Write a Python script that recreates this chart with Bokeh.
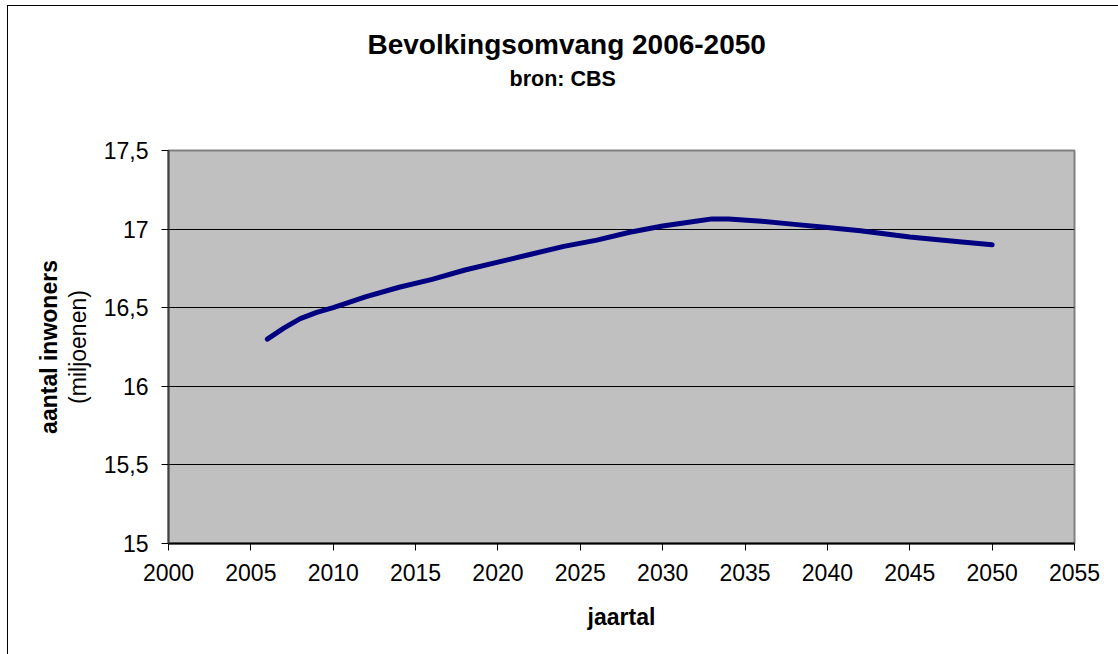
from bokeh.plotting import figure
from bokeh.models import Range1d, FixedTicker, LinearAxis, Title, ColumnDataSource, Grid
from bokeh.embed import file_html
from bokeh.resources import INLINE

# Bevolkingsprognose (miljoenen inwoners), bron: CBS
years = [2006, 2007, 2008, 2009, 2010, 2012, 2014, 2016, 2018, 2020, 2022, 2024,
         2026, 2028, 2030, 2032, 2033, 2034, 2036, 2038, 2040, 2042, 2045, 2048, 2050]
inhabitants = [16.30, 16.37, 16.43, 16.47, 16.50, 16.57, 16.63, 16.68, 16.74, 16.79, 16.84, 16.89,
               16.93, 16.98, 17.02, 17.05, 17.065, 17.065, 17.05, 17.03, 17.01, 16.99, 16.95, 16.92, 16.90]

x_ticks = [2000, 2005, 2010, 2015, 2020, 2025, 2030, 2035, 2040, 2045, 2050, 2055]
y_ticks = [15, 15.5, 16, 16.5, 17, 17.5]
y_tick_labels = ["15", "15,5", "16", "16,5", "17", "17,5"]

FONT = "Liberation Sans"

p = figure(width=1111, height=649, output_backend="svg", toolbar_location=None,
           x_range=Range1d(2000, 2055), y_range=Range1d(15, 17.5),
           x_axis_type=None, y_axis_type=None, title=None)
p.margin = (5, 0, 0, 7)
p.styles = {"border-left": "1px solid black", "border-top": "1px solid black"}
p.frame_width = 906
p.frame_height = 393
p.min_border_left = 160
p.min_border_top = 144
p.min_border_right = 45
p.min_border_bottom = 112
p.background_fill_color = "#C0C0C0"
p.border_fill_color = "white"
p.outline_line_color = "#808080"
p.outline_line_width = 2

# x axis
xaxis = LinearAxis(ticker=FixedTicker(ticks=x_ticks), axis_label="jaartal")
xaxis.axis_line_color = "black"
xaxis.axis_line_width = 2
xaxis.major_tick_line_color = "black"
xaxis.major_tick_in = 0
xaxis.major_tick_out = 7
xaxis.minor_tick_line_color = None
xaxis.major_label_text_font = FONT
xaxis.major_label_text_font_size = "23px"
xaxis.major_label_text_color = "black"
xaxis.major_label_standoff = 13
xaxis.axis_label_text_font = FONT
xaxis.axis_label_text_font_size = "23px"
xaxis.axis_label_text_font_style = "bold"
xaxis.axis_label_text_color = "black"
xaxis.axis_label_standoff = 20
p.add_layout(xaxis, "below")

# y axis with unit label
yaxis = LinearAxis(ticker=FixedTicker(ticks=y_ticks), axis_label="(miljoenen)")
yaxis.major_label_overrides = {t: lab for t, lab in zip(y_ticks, y_tick_labels)}
yaxis.axis_line_color = "#404040"
yaxis.axis_line_width = 2
yaxis.major_tick_line_color = "black"
yaxis.major_tick_in = 0
yaxis.major_tick_out = 7
yaxis.minor_tick_line_color = None
yaxis.major_label_text_font = FONT
yaxis.major_label_text_font_size = "23px"
yaxis.major_label_text_color = "black"
yaxis.major_label_standoff = 13
yaxis.axis_label_text_font = FONT
yaxis.axis_label_text_font_size = "23px"
yaxis.axis_label_text_font_style = "normal"
yaxis.axis_label_text_color = "black"
yaxis.axis_label_standoff = 10
p.add_layout(yaxis, "left")

# outer axis carrying the bold quantity name
yname = LinearAxis(ticker=FixedTicker(ticks=[]), axis_label="aantal inwoners")
yname.axis_line_color = None
yname.major_tick_line_color = None
yname.minor_tick_line_color = None
yname.major_label_text_font_size = "0px"
yname.axis_label_text_font = FONT
yname.axis_label_text_font_size = "23px"
yname.axis_label_text_font_style = "bold"
yname.axis_label_text_color = "black"
yname.axis_label_standoff = 0
p.add_layout(yname, "left")

# horizontal gridlines
p.ygrid.grid_line_color = None
grid = Grid(dimension=1, ticker=FixedTicker(ticks=y_ticks), grid_line_color="black", grid_line_width=1)
p.add_layout(grid, "center")

# titles, placed relative to the left edge of the plotting area;
# an empty title panel keeps the white gap above the plotting area
gap = Title(text=" ", text_font=FONT, text_font_size="2px", standoff=56)
sub = Title(text="bron: CBS", text_font=FONT, text_font_size="21.5px", text_font_style="bold",
            text_color="black", align="left", offset=341, standoff=0)
main = Title(text="Bevolkingsomvang 2006-2050", text_font=FONT, text_font_size="28px",
             text_font_style="bold", text_color="black", align="left", offset=199, standoff=10)
p.add_layout(gap, "above")
p.add_layout(sub, "above")
p.add_layout(main, "above")

src = ColumnDataSource(data=dict(year=years, value=inhabitants))
p.line("year", "value", source=src, line_color="#000080", line_width=5,
       line_cap="round", line_join="round")

open("out.html", "w").write(file_html(p, INLINE))
